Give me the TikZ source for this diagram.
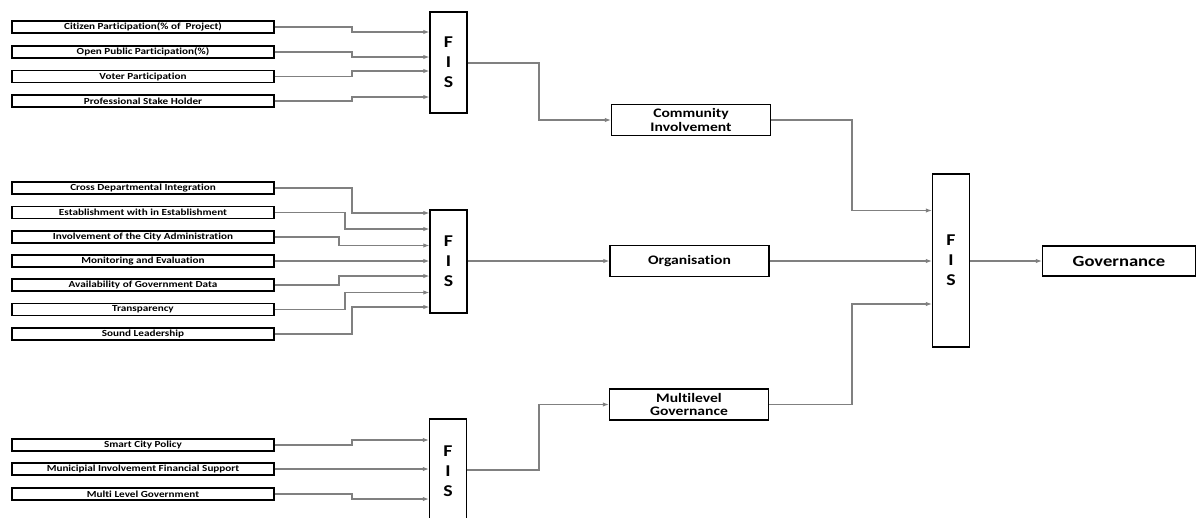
\documentclass[tikz,border=0pt]{standalone}
\usepackage{fontspec}
\setmainfont{Carlito}[FakeStretch=1.2, Ligatures={NoCommon}]
\usetikzlibrary{arrows.meta}
\definecolor{wire}{HTML}{808080}
\tikzset{
  inbox/.style={draw=black, line width=1.3pt, minimum width=262pt, minimum height=12pt,
    inner sep=0pt, font=\bfseries\fontsize{9.3}{10}\selectfont},
  fisbox/.style={draw=black, line width=1.4pt, minimum width=37pt, inner sep=0pt,
    align=center, font=\bfseries\fontsize{16.5}{20}\selectfont},
  midbox/.style={draw=black, line width=1.4pt, minimum width=159pt, minimum height=31pt,
    inner sep=0pt, align=center, font=\bfseries\fontsize{13}{13.5}\selectfont},
  outbox/.style={draw=black, line width=1.4pt, minimum width=153pt, minimum height=30pt,
    inner sep=0pt, font=\bfseries\fontsize{15.5}{16}\selectfont},
  conn/.style={draw=wire, line width=1.1pt, -{Latex[length=6pt,width=4.5pt]}}
}
% elbow connector: source, target, x of the bend, y at which it enters the target
\newcommand\elbow[4]{\draw[conn] (#1.east) -| (#3,#4) -- (#2.west |- #3,#4);}
\begin{document}
\begin{tikzpicture}[x=1pt,y=-1pt]
\useasboundingbox (0,0) rectangle (1196,517);
\clip (0,0) rectangle (1196,517);
\fill[white] (0,0) rectangle (1196,517);

% fuzzy inference blocks
\node[fisbox, minimum height=101pt] (fis1) at (448.5,62.5) {F\\I\\S};
\node[fisbox, minimum height=103pt] (fis2) at (448.5,261.5) {F\\I\\S};
\node[fisbox, minimum height=104pt] (fis3) at (448,471) {F\\I\\S};
\node[fisbox, minimum height=173pt] (fis4) at (951,260.5) {F\\I\\S};

% community inputs
\node[inbox] (c1) at (143,27) {Citizen Participation(\% of\ \ Project)};
\node[inbox] (c2) at (143,52) {Open Public Participation(\%)};
\node[inbox] (c3) at (143,76.5) {Voter Participation};
\node[inbox] (c4) at (143,101) {Professional Stake Holder};

% organisation inputs
\node[inbox] (o1) at (143,188) {Cross Departmental Integration};
\node[inbox] (o2) at (143,212.5) {Establishment with in Establishment};
\node[inbox] (o3) at (143,237) {Involvement of the City Administration};
\node[inbox] (o4) at (143,261) {Monitoring and Evaluation};
\node[inbox] (o5) at (143,285) {Availability of Government Data};
\node[inbox] (o6) at (143,309.5) {Transparency};
\node[inbox] (o7) at (143,334) {Sound Leadership};

% multilevel inputs
\node[inbox] (m1) at (143,445) {Smart City Policy};
\node[inbox] (m2) at (143,469) {Municipial Involvement Financial Support};
\node[inbox] (m3) at (143,494) {Multi Level Government};

% intermediate and final outputs
\node[midbox] (ci)  at (691,120)   {Community\\Involvement};
\node[midbox] (org) at (689.5,261) {Organisation};
\node[midbox] (mg)  at (689,404.5) {Multilevel\\Governance};
\node[outbox] (gov) at (1119,261)  {Governance};

% inputs into the first block
\elbow{c1}{fis1}{352}{32}
\elbow{c2}{fis1}{352}{57}
\elbow{c3}{fis1}{352}{71}
\elbow{c4}{fis1}{352}{97}

% inputs into the second block
\elbow{o1}{fis2}{352}{213}
\elbow{o2}{fis2}{345}{229}
\elbow{o3}{fis2}{339}{245.5}
\draw[conn] (o4.east) -- (fis2.west |- o4.east);
\elbow{o5}{fis2}{339}{276}
\elbow{o6}{fis2}{345}{292.5}
\elbow{o7}{fis2}{352}{307}

% inputs into the third block
\elbow{m1}{fis3}{352}{440}
\draw[conn] (m2.east) -- (fis3.west |- m2.east);
\elbow{m3}{fis3}{352}{499}

% block outputs to the aggregates
\draw[conn] (fis1.east |- 0,63) -| (539,120) -- (ci.west);
\draw[conn] (fis2.east |- org.west) -- (org.west);
\draw[conn] (fis3.east |- 0,470) -| (539,404.5) -- (mg.west);

% aggregates into the final block
\draw[conn] (ci.east) -| (852,210.5) -- (fis4.west |- 852,210.5);
\draw[conn] (org.east) -- (fis4.west |- org.east);
\draw[conn] (mg.east) -| (852,304) -- (fis4.west |- 852,304);
\draw[conn] (fis4.east |- gov.west) -- (gov.west);
\end{tikzpicture}
\end{document}
